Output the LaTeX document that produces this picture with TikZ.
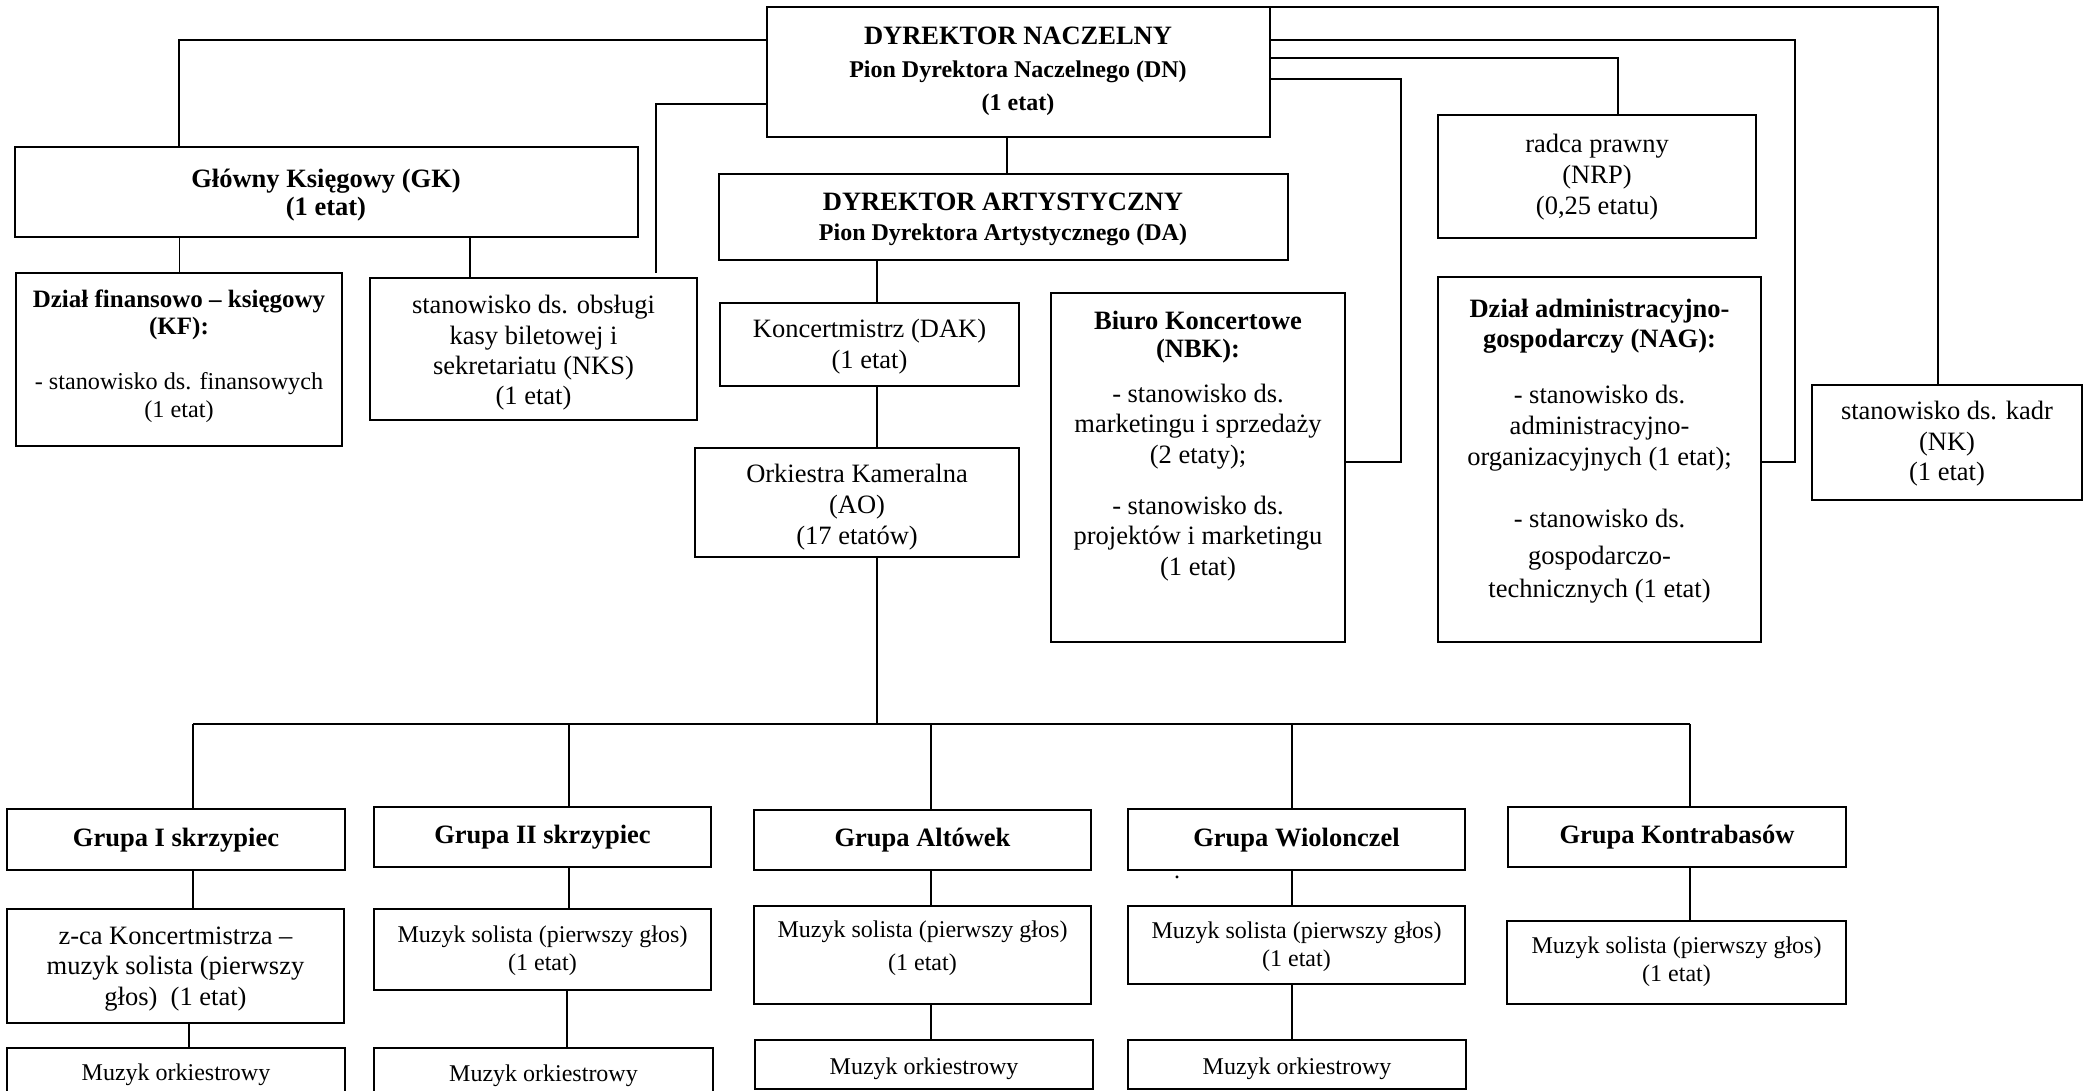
\documentclass[tikz,border=0pt]{standalone}
\usepackage{fontspec}
\setmainfont{Liberation Serif}
\usetikzlibrary{fit}
\begin{document}
\begin{tikzpicture}[x=1pt,y=-1pt,
  thickbox/.style={draw, line width=2.2pt, inner sep=0pt},
  thinbox/.style={draw, line width=1.2pt, inner sep=0pt},
  conn/.style={line width=1.6pt},
  thinconn/.style={line width=0.9pt},
  tx/.style={align=center, inner sep=0pt, font=\fontsize{26.5}{30.5}\selectfont},
  tsmall/.style={align=center, inner sep=0pt, font=\fontsize{24}{28}\selectfont},
  tbold/.style={align=center, inner sep=0pt, font=\bfseries\fontsize{26.5}{30.5}\selectfont}
]
\useasboundingbox (0,0) rectangle (2085,1091);
\clip (0,0) rectangle (2085,1091);

% ---------- boxes ----------
\node[thickbox, fit={(767,7) (1270,137)}] (dn) {};
\node[thickbox, fit={(15,147) (638,237)}] (gk) {};
\node[thickbox, fit={(719,174) (1288,260)}] (da) {};
\node[thickbox, fit={(16,273) (342,446)}] (kf) {};
\node[thinbox, fit={(370,278) (697,420)}] (nks) {};
\node[thinbox, fit={(720,303) (1019,386)}] (dak) {};
\node[thinbox, fit={(695,448) (1019,557)}] (ao) {};
\node[thinbox, fit={(1051,293) (1345,642)}] (nbk) {};
\node[thinbox, fit={(1438,115) (1756,238)}] (nrp) {};
\node[thinbox, fit={(1438,277) (1761,642)}] (nag) {};
\node[thinbox, fit={(1812,385) (2082,500)}] (nk) {};

\node[thinbox, fit={(7,809) (345,870)}] (g1) {};
\node[thinbox, fit={(374,807) (711,867)}] (g2) {};
\node[thinbox, fit={(754,810) (1091,870)}] (g3) {};
\node[thinbox, fit={(1128,809) (1465,870)}] (g4) {};
\node[thinbox, fit={(1508,807) (1846,867)}] (g5) {};

\node[thinbox, fit={(7,909) (344,1023)}] (s1) {};
\node[thinbox, fit={(374,909) (711,990)}] (s2) {};
\node[thinbox, fit={(754,906) (1091,1004)}] (s3) {};
\node[thinbox, fit={(1128,906) (1465,984)}] (s4) {};
\node[thinbox, fit={(1507,921) (1846,1004)}] (s5) {};

\node[thinbox, fit={(7,1048) (345,1100)}] (o1) {};
\node[thinbox, fit={(374,1048) (713,1100)}] (o2) {};
\node[thinbox, fit={(755,1040) (1093,1089)}] (o3) {};
\node[thinbox, fit={(1128,1040) (1466,1089)}] (o4) {};

% ---------- texts ----------
\node[tx, font=\bfseries\fontsize{24}{33}\selectfont] (dnt) at (1018,71)
  {{\fontsize{26.5}{33}\selectfont DYREKTOR NACZELNY}\\Pion Dyrektora Naczelnego (DN)\\(1 etat)};
\node[tx, font=\bfseries\fontsize{26.5}{28}\selectfont] (gkt) at (326,195)
  {Główny Księgowy (GK)\\(1 etat)};
\node[tx, font=\bfseries\fontsize{24}{30}\selectfont] (dat) at (1003,219)
  {{\fontsize{26.5}{30}\selectfont DYREKTOR ARTYSTYCZNY}\\Pion Dyrektora Artystycznego (DA)};
\node[tx, font=\fontsize{24.2}{27.5}\selectfont] (kft) at (179,356)
  {{\bfseries\fontsize{25}{27.5}\selectfont Dział finansowo – księgowy}\\{\bfseries\fontsize{25}{27.5}\selectfont (KF):}\\[27.5pt]- stanowisko ds. finansowych\\(1 etat)};
\node[tx, font=\fontsize{26.5}{30.3}\selectfont] (nkst) at (533.5,353)
  {stanowisko ds. obsługi\\kasy biletowej i\\sekretariatu (NKS)\\(1 etat)};
\node[tx, font=\fontsize{26.5}{31}\selectfont] (dakt) at (869.5,347)
  {Koncertmistrz (DAK)\\(1 etat)};
\node[tx, font=\fontsize{26.5}{31}\selectfont] (aot) at (857,507)
  {Orkiestra Kameralna\\(AO)\\(17 etatów)};
\node[tx] (nbkt) at (1198,446)
  {\textbf{Biuro Koncertowe}\\[-2.5pt]\textbf{(NBK):}\\[14.5pt]- stanowisko ds.\\marketingu i sprzedaży\\(2 etaty);\\[20.5pt]- stanowisko ds.\\projektów i marketingu\\(1 etat)};
\node[tx, font=\fontsize{26.5}{31}\selectfont] (nrpt) at (1597,177)
  {radca prawny\\(NRP)\\(0,25 etatu)};
\node[tx, font=\fontsize{26.5}{31}\selectfont] (nagt) at (1599.5,451)
  {\textbf{Dział administracyjno-}\\[-1pt]\textbf{gospodarczy (NAG):}\\[25pt]- stanowisko ds.\\administracyjno-\\organizacyjnych (1 etat);\\[31pt]- stanowisko ds.\\[6pt]gospodarczo-\\[2pt]technicznych (1 etat)};
\node[tx] (nkt) at (1947,444)
  {stanowisko ds. kadr\\(NK)\\(1 etat)};

\node[tbold] (g1t) at (176,840) {Grupa I skrzypiec};
\node[tbold] (g2t) at (542.5,837) {Grupa II skrzypiec};
\node[tbold] (g3t) at (922.5,840) {Grupa Altówek};
\node[tbold] (g4t) at (1296.5,840) {Grupa Wiolonczel};
\node[tbold] (g5t) at (1677,837) {Grupa Kontrabasów};
\node[tsmall, anchor=base] (dot) at (1177,878) {.};

\node[tx] (s1t) at (175.5,969) {z-ca Koncertmistrza –\\muzyk solista (pierwszy\\głos)\ \ (1 etat)};
\node[tsmall] (s2t) at (542.5,951) {Muzyk solista (pierwszy głos)\\(1 etat)};
\node[tsmall, font=\fontsize{24}{33}\selectfont] (s3t) at (922.5,948) {Muzyk solista (pierwszy głos)\\(1 etat)};
\node[tsmall] (s4t) at (1296.5,947) {Muzyk solista (pierwszy głos)\\(1 etat)};
\node[tsmall] (s5t) at (1676.5,962) {Muzyk solista (pierwszy głos)\\(1 etat)};

\node[tsmall] (o1t) at (176,1075) {Muzyk orkiestrowy};
\node[tsmall] (o2t) at (543.5,1076) {Muzyk orkiestrowy};
\node[tsmall] (o3t) at (924,1069) {Muzyk orkiestrowy};
\node[tsmall] (o4t) at (1297,1069) {Muzyk orkiestrowy};

% ---------- connectors ----------
\coordinate (k1) at (179,40);
\coordinate (k2) at (656,104);
\coordinate (nksend) at (656,273);
\coordinate (k3) at (1938,7);
\coordinate (k4) at (1795,40);
\coordinate (k4b) at (1795,462);
\coordinate (k5) at (1618,58);
\coordinate (k6) at (1401,79);
\coordinate (k6b) at (1401,462);
\coordinate (xda) at (1007,0);
\coordinate (xkf) at (179,0);
\coordinate (xnks) at (470,0);
\coordinate (xa) at (877,0);
\coordinate (bus0) at (877,724);
\coordinate (b1) at (193,724);
\coordinate (b2) at (569,724);
\coordinate (b3) at (931,724);
\coordinate (b4) at (1292,724);
\coordinate (b5) at (1690,724);
\coordinate (c1) at (189,0);
\coordinate (c2) at (567,0);

\draw[conn] (k1 -| dn.west) -- (k1) -- (gk.north -| k1);
\draw[conn] (k2 -| dn.west) -- (k2) -- (nksend);
\draw[conn] (dn.south -| xda) -- (da.north -| xda);
\draw[conn] (k3 -| dn.east) -- (k3) -- (nk.north -| k3);
\draw[conn] (k4 -| dn.east) -- (k4) -- (k4b) -- (k4b -| nag.east);
\draw[conn] (k5 -| dn.east) -- (k5) -- (nrp.north -| k5);
\draw[conn] (k6 -| dn.east) -- (k6) -- (k6b) -- (k6b -| nbk.east);

\draw[thinconn] (gk.south -| xkf) -- (kf.north -| xkf);
\draw[conn] (gk.south -| xnks) -- (nks.north -| xnks);
\draw[conn] (da.south -| xa) -- (dak.north -| xa);
\draw[conn] (dak.south -| xa) -- (ao.north -| xa);
\draw[conn] (ao.south -| xa) -- (bus0);
\draw[line width=2pt] (b1) -- (b5);

\draw[conn] (b1) -- (g1.north -| b1);
\draw[conn] (b2) -- (g2.north -| b2);
\draw[conn] (b3) -- (g3.north -| b3);
\draw[conn] (b4) -- (g4.north -| b4);
\draw[conn] (b5) -- (g5.north -| b5);

\draw[conn] (g1.south -| b1) -- (s1.north -| b1);
\draw[conn] (g2.south -| b2) -- (s2.north -| b2);
\draw[conn] (g3.south -| b3) -- (s3.north -| b3);
\draw[conn] (g4.south -| b4) -- (s4.north -| b4);
\draw[conn] (g5.south -| b5) -- (s5.north -| b5);

\draw[conn] (s1.south -| c1) -- (o1.north -| c1);
\draw[conn] (s2.south -| c2) -- (o2.north -| c2);
\draw[conn] (s3.south -| b3) -- (o3.north -| b3);
\draw[conn] (s4.south -| b4) -- (o4.north -| b4);
\end{tikzpicture}
\end{document}
